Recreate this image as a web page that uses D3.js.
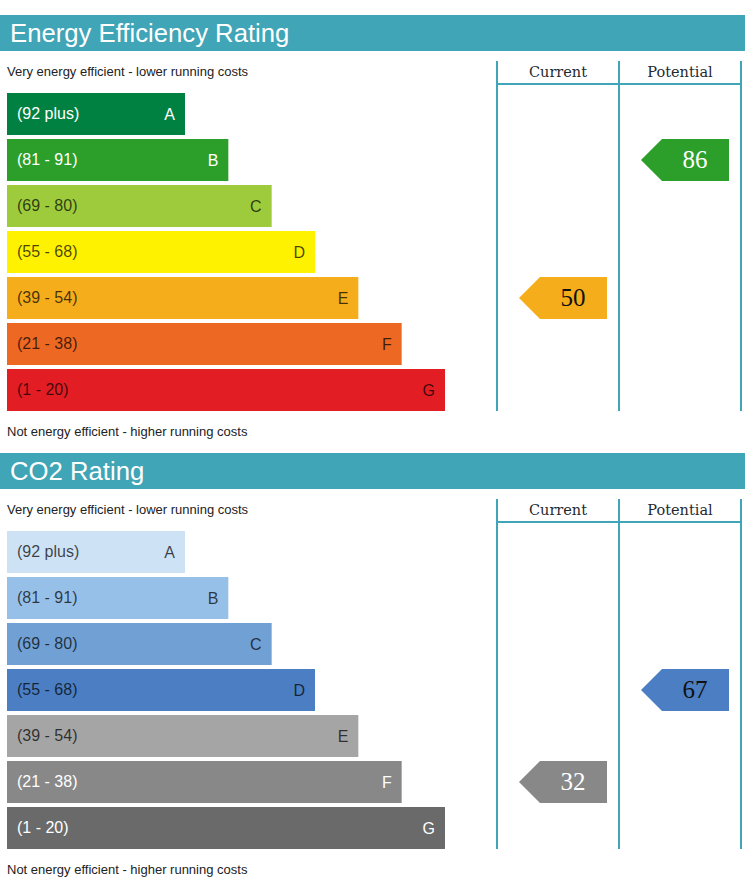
<!DOCTYPE html>
<html>
<head>
<meta charset="utf-8">
<script src="https://cdn.jsdelivr.net/npm/d3@7"></script>
<style>
  body { margin: 0; background: #fff; }
  svg { display: block; }
</style>
</head>
<body>
<svg id="chart"></svg>
<script>
/* Chart data */
const bands = ["A", "B", "C", "D", "E", "F", "G"];
const bandRanges = ["(92 plus)", "(81 - 91)", "(69 - 80)", "(55 - 68)", "(39 - 54)", "(21 - 38)", "(1 - 20)"];
const columns = ["Current", "Potential"];

const eerTitle = "Energy Efficiency Rating";
const eerColors = ["#008041", "#2c9f2a", "#9dcb3c", "#fff200", "#f6ad1c", "#ed6823", "#e31d24"];
const eerTextLight = [true, true, false, false, false, false, false];
const eerValues = [50, 86];   // current, potential

const co2Title = "CO2 Rating";
const co2Colors = ["#cde2f4", "#97c0e9", "#71a0d5", "#4b7ec2", "#a5a5a5", "#888888", "#6a6a6a"];
const co2TextLight = [false, false, false, false, false, true, true];
const co2Values = [32, 67];

const topText = "Very energy efficient - lower running costs";
const bottomText = "Not energy efficient - higher running costs";

// which band a score falls in
function bandOf(score) {
  if (score >= 92) return "A";
  if (score >= 81) return "B";
  if (score >= 69) return "C";
  if (score >= 55) return "D";
  if (score >= 39) return "E";
  if (score >= 21) return "F";
  return "G";
}

const width = 747;
const height = 896;
const teal = "#3fa5b7";
const sans = "Liberation Sans, Arial, sans-serif";
const svg = d3.select("#chart").attr("width", width).attr("height", height);

const y = d3.scaleBand().domain(bands).range([93, 411]).paddingInner(4 / 46).paddingOuter(0);
const barEnd = d3.scaleLinear().domain([0, bands.length - 1]).range([185, 445]);
const col = d3.scaleBand().domain(columns).range([497, 741]);

function drawPanel(offset, title, colors, textLight, values) {
  const g = svg.append("g").attr("transform", `translate(0,${offset})`);

  g.append("rect")
    .attr("x", 0).attr("y", 15).attr("width", 745).attr("height", 36)
    .attr("fill", teal);
  g.append("text")
    .attr("x", 10).attr("y", 42)
    .attr("font-family", sans)
    .attr("font-size", 25.7).attr("fill", "#fff")
    .text(title);

  g.append("text")
    .attr("x", 7).attr("y", 76)
    .attr("font-family", sans)
    .attr("font-size", 13).attr("fill", "#222")
    .text(topText);
  g.append("text")
    .attr("x", 7).attr("y", 436)
    .attr("font-family", sans)
    .attr("font-size", 13).attr("fill", "#222")
    .text(bottomText);

  // bars
  const bar = g.append("g").selectAll("g")
    .data(bands)
    .enter().append("g");
  bar.append("rect")
    .attr("x", 7)
    .attr("y", d => y(d))
    .attr("width", (d, i) => barEnd(i) - 7)
    .attr("height", y.bandwidth())
    .attr("fill", (d, i) => colors[i]);
  bar.append("text")
    .attr("x", 17)
    .attr("y", d => y(d) + y.bandwidth() / 2 + 5)
    .attr("font-family", sans)
    .attr("font-size", 16)
    .attr("fill", (d, i) => textLight[i] ? "#fff" : "rgba(0,0,0,0.72)")
    .text((d, i) => bandRanges[i]);
  bar.append("text")
    .attr("x", (d, i) => barEnd(i) - 10)
    .attr("y", d => y(d) + y.bandwidth() / 2 + 5.5)
    .attr("text-anchor", "end")
    .attr("font-family", sans)
    .attr("font-size", 16)
    .attr("fill", (d, i) => textLight[i] ? "#fff" : "rgba(0,0,0,0.72)")
    .text(d => d);

  // column grid
  const lines = g.append("g").attr("stroke", teal).attr("stroke-width", 2);
  [col("Current"), col("Potential"), col.range()[1]].forEach(x => {
    lines.append("line").attr("x1", x).attr("x2", x).attr("y1", 61).attr("y2", 411);
  });
  lines.append("line")
    .attr("x1", col.range()[0]).attr("x2", col.range()[1])
    .attr("y1", 84).attr("y2", 84);

  g.append("g").selectAll("text")
    .data(columns)
    .enter().append("text")
      .attr("x", d => col(d) + col.bandwidth() / 2)
      .attr("y", 77)
      .attr("text-anchor", "middle")
      .attr("font-family", "DejaVu Serif, serif")
      .attr("font-size", 14.5)
      .attr("fill", "#1f2a30")
      .text(d => d);

  // rating arrows
  const arrow = g.append("g").selectAll("g")
    .data(values)
    .enter().append("g")
      .attr("transform", (d, i) => `translate(${col(columns[i])},${y(bandOf(d))})`);
  const h = y.bandwidth();
  arrow.append("path")
    .attr("d", `M22,${h / 2}L43,0L110,0L110,${h}L43,${h}Z`)
    .attr("fill", d => colors[bands.indexOf(bandOf(d))]);
  arrow.append("text")
    .attr("x", 76)
    .attr("y", h / 2 + 8)
    .attr("text-anchor", "middle")
    .attr("font-family", "Liberation Serif, serif")
    .attr("font-size", 25)
    .attr("fill", d => textLight[bands.indexOf(bandOf(d))] ? "#fff" : "#111")
    .text(d => d);
}

drawPanel(0, eerTitle, eerColors, eerTextLight, eerValues);
drawPanel(438, co2Title, co2Colors, co2TextLight, co2Values);
</script>
</body>
</html>
